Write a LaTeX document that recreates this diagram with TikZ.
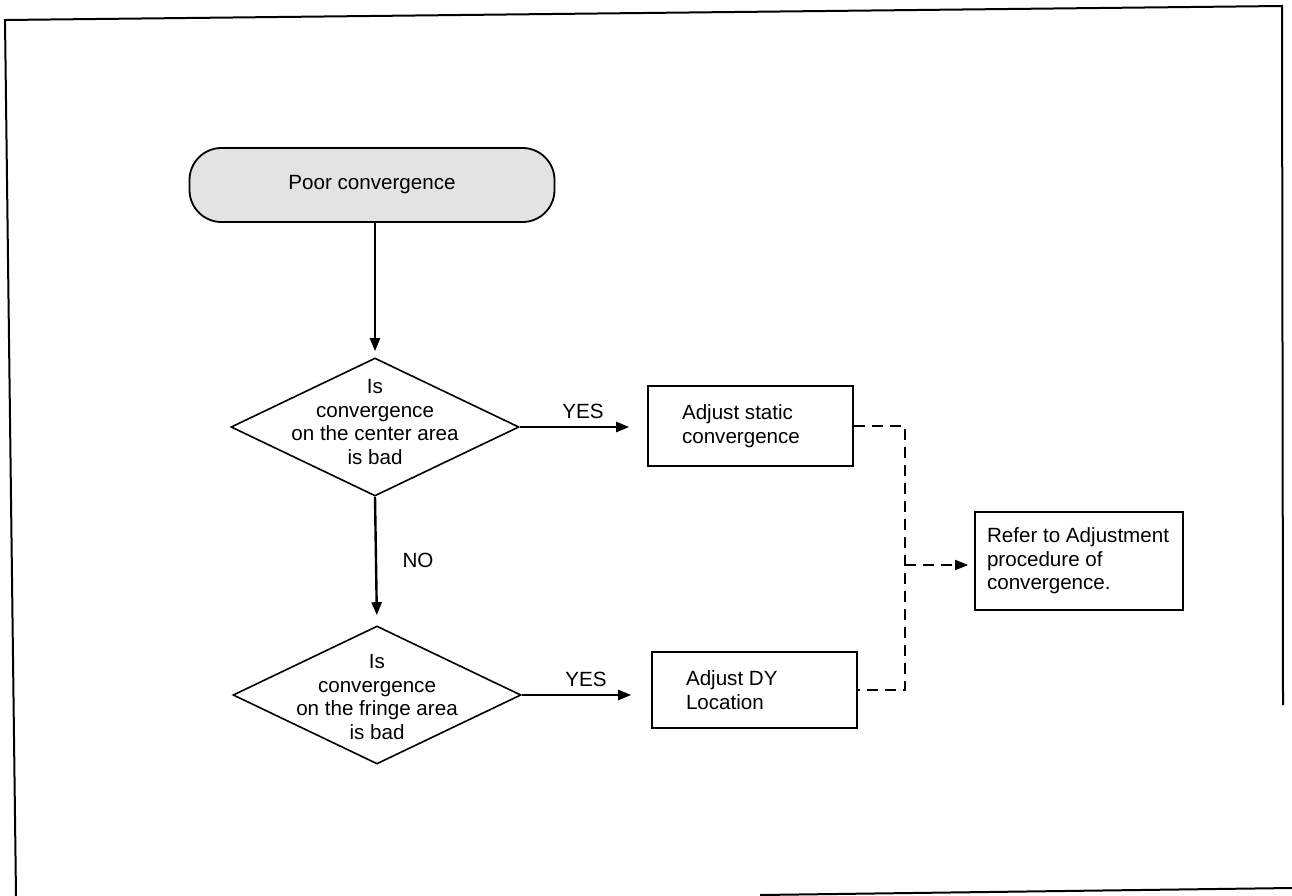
\documentclass[tikz,border=0pt]{standalone}
\usepackage{fontspec}
\setmainfont{Liberation Sans}
\usetikzlibrary{shapes.geometric,arrows.meta}
\begin{document}
\begin{tikzpicture}[x=1pt,y=-1pt,
  font=\fontsize{20.6}{23.5}\selectfont,
  flow/.style={line width=2.4pt,-{Triangle[length=13pt,width=10pt]}},
  dsh/.style={line width=1.7pt,dash pattern=on 11pt off 7pt},
  dsharrow/.style={dsh,-{Triangle[length=13pt,width=10pt]}},
  box/.style={draw,line width=1.6pt,align=flush left,inner xsep=34pt,inner ysep=0pt,text width=137pt},
  dia/.style={draw,diamond,line width=1.6pt,inner sep=0pt,minimum width=288pt,minimum height=138pt},
  txt/.style={align=center,inner sep=0pt},
  lbl/.style={inner sep=0pt},
  frame/.style={line width=2pt}
]
\useasboundingbox (0,0) rectangle (1292,896);
% outer frame
\draw[frame] (16,896) -- (5,20) -- (1282,6) -- (1283,705);
\draw[frame] (760,895) -- (1292,888);

% nodes
\node[draw,rounded corners=32pt,minimum width=365pt,minimum height=74pt,fill=gray!22,line width=1.8pt] (start) at (372,185) {Poor convergence};

\node[dia] (d1) at (375,427) {};
\node[txt] (d1t) at (375,422) {Is\\convergence\\on the center area\\is bad};

\node[dia] (d2) at (377,695) {};
\node[txt] (d2t) at (377,697) {Is\\convergence\\on the fringe area\\is bad};

\node[box,minimum height=80pt] (b1) at (750.5,426) {Adjust static\\convergence};
\node[box,minimum height=76pt] (b2) at (754.5,690) {Adjust DY\\Location};
\node[box,minimum height=98pt,inner xsep=12pt,text width=184pt] (ref) at (1079,561) {Refer to Adjustment\\procedure of\\convergence.};

\coordinate (j) at (905,565);

% connectors
\draw[flow,shorten >=6pt] (start.south -| d1.north) -- (d1.north);
\draw[flow,shorten >=18pt] (d1.east) -- (d1.east -| b1.west);
\draw[flow,shorten >=10pt] (d1.south) -- (d2.north);
\draw[flow,shorten >=20pt] (d2.east) -- (d2.east -| b2.west);

\draw[dsh] (b1.east) -- (b1.east -| j) -- (b2.east -| j) -- (b2.east);
\draw[dsharrow,shorten >=6pt] (j) -- (j -| ref.west);

% labels
\node[lbl] (yes1) at (583,411) {YES};
\node[lbl] (no1) at (418,560) {NO};
\node[lbl] (yes2) at (586,679) {YES};
\end{tikzpicture}
\end{document}
